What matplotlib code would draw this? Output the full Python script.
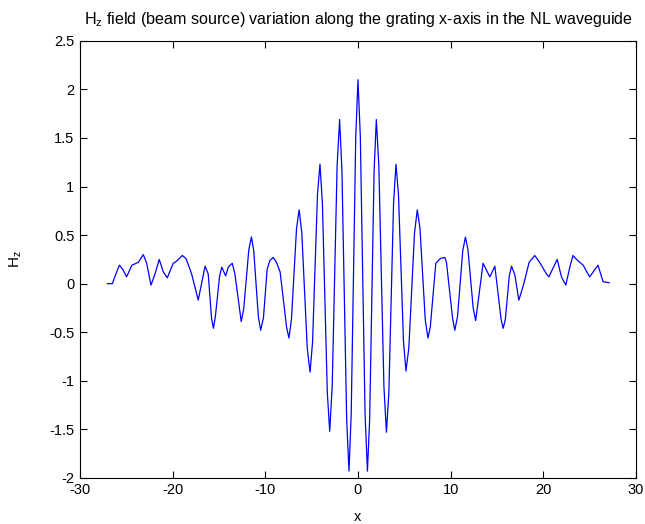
"""
Hz field profile of the beam source along the grating x-axis (NL waveguide).
"""

import matplotlib

matplotlib.use("Agg")
import matplotlib.pyplot as plt

# sampled field profile: x position and Hz value
x_pos = [
    -27.05, -26.5, -26.2, -25.75, -25.4, -24.97, -24.4, -23.7, -23.17, -22.8,
    -22.34, -21.9, -21.45, -21.0, -20.58, -19.94, -19.6, -18.96, -18.56, -17.95,
    -17.24, -16.5, -16.16, -15.8, -15.6, -15.38, -14.93, -14.7, -14.28, -14.0,
    -13.57, -13.28, -12.6, -12.33, -11.78, -11.5, -11.25, -10.75, -10.5, -10.2,
    -9.8, -9.5, -9.15, -8.8, -8.4, -7.7, -7.45, -7.18, -6.63, -6.35,
    -6.06, -5.47, -5.17, -4.9, -4.37, -4.1, -3.84, -3.31, -3.05, -2.78,
    -2.25, -1.98, -1.73, -1.22, -0.97, -0.73, -0.24, 0.0, 0.255, 0.765,
    1.02, 1.26, 1.74, 1.98, 2.25, 2.8, 3.07, 3.33, 3.84, 4.1,
    4.37, 4.91, 5.18, 5.49, 6.1, 6.4, 6.69, 7.26, 7.55, 7.8,
    8.4, 8.9, 9.37, 9.55, 10.2, 10.45, 10.74, 11.31, 11.6, 11.87,
    12.43, 12.7, 13.5, 14.23, 14.77, 15.45, 15.67, 15.9, 16.33, 16.57,
    16.93, 17.36, 17.9, 18.47, 19.08, 19.6, 20.34, 20.6, 21.5, 21.96,
    22.43, 22.86, 23.2, 23.58, 24.3, 25.0, 25.9, 26.45, 27.1,
]
hz = [
    0.0, 0.0, 0.08, 0.19, 0.15, 0.07, 0.19, 0.22, 0.30, 0.21,
    -0.015, 0.10, 0.25, 0.12, 0.06, 0.21, 0.23, 0.29, 0.26, 0.10,
    -0.17, 0.18, 0.10, -0.36, -0.46, -0.33, 0.08, 0.17, 0.08, 0.17,
    0.21, 0.10, -0.39, -0.26, 0.35, 0.48, 0.34, -0.34, -0.48, -0.35,
    0.15, 0.24, 0.27, 0.22, 0.12, -0.45, -0.56, -0.37, 0.57, 0.76,
    0.52, -0.67, -0.91, -0.60, 0.92, 1.23, 0.83, -1.12, -1.52, -1.05,
    1.22, 1.69, 1.16, -1.40, -1.93, -1.34, 1.51, 2.10, 1.51, -1.34,
    -1.93, -1.40, 1.16, 1.69, 1.22, -1.06, -1.53, -1.13, 0.83, 1.23,
    0.92, -0.59, -0.90, -0.66, 0.52, 0.76, 0.57, -0.37, -0.56, -0.45,
    0.21, 0.26, 0.27, 0.22, -0.35, -0.48, -0.34, 0.34, 0.48, 0.35,
    -0.25, -0.38, 0.21, 0.07, 0.18, -0.37, -0.46, -0.37, 0.08, 0.18,
    0.09, -0.17, 0.0, 0.22, 0.29, 0.22, 0.10, 0.07, 0.25, 0.07,
    -0.015, 0.17, 0.29, 0.25, 0.19, 0.07, 0.19, 0.02, 0.01,
]

x_ticks = [-30, -20, -10, 0, 10, 20, 30]
y_ticks = [-2, -1.5, -1, -0.5, 0, 0.5, 1, 1.5, 2, 2.5]
y_tick_labels = ["-2", "-1.5", "-1", "-0.5", "0", "0.5", "1", "1.5", "2", "2.5"]

plt.rcParams["font.family"] = ["Liberation Sans", "DejaVu Sans"]
plt.rcParams["axes.unicode_minus"] = False

fig = plt.figure(figsize=(6.45, 5.24), dpi=100)
ax = fig.add_axes([0.124, 0.088, 0.862, 0.834])

ax.plot(x_pos, hz, color="#0000ff", linewidth=0.9)

ax.set_xlim(-30, 30)
ax.set_ylim(-2, 2.5)
ax.set_xticks(x_ticks)
ax.set_yticks(y_ticks)
ax.set_yticklabels(y_tick_labels)
ax.tick_params(direction="in", length=5, width=0.8, top=True, right=True,
               labelsize=10.5, pad=4)
for spine in ax.spines.values():
    spine.set_linewidth(0.8)

ax.set_xlabel("x", fontsize=10.5)
ax.xaxis.set_label_coords(0.5, -0.073)
ax.set_ylabel("$\\mathregular{H_z}$", fontsize=11)
ax.yaxis.set_label_coords(-0.1, 0.5)
ax.set_title("$\\mathregular{H_z}$ field (beam source) variation along the grating x-axis in the NL waveguide",
             fontsize=11.6, pad=12)

fig.savefig("out.png", dpi=100)
